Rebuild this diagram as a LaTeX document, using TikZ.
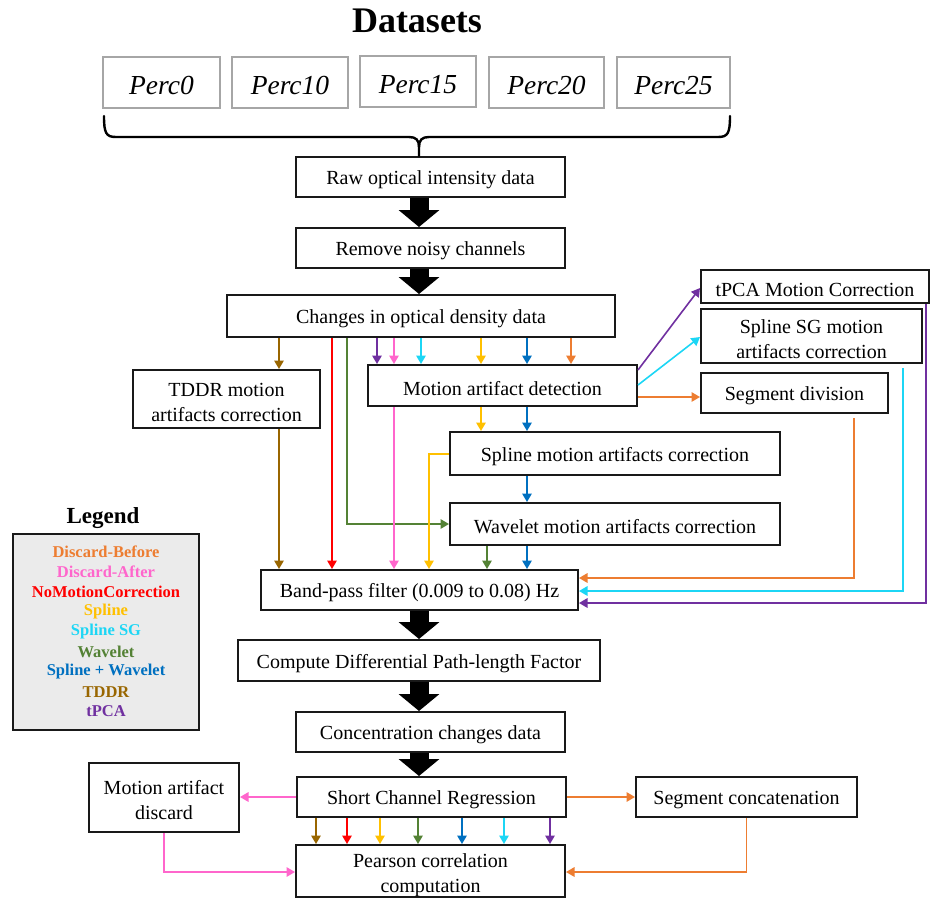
\documentclass[tikz,border=0pt]{standalone}
\usepackage{fontspec}
\setmainfont{Liberation Serif}
\usetikzlibrary{arrows.meta}
\definecolor{cOr}{HTML}{ED7D31}
\definecolor{cPk}{HTML}{FF66CC}
\definecolor{cRd}{HTML}{FF0000}
\definecolor{cYl}{HTML}{FFC000}
\definecolor{cCy}{HTML}{1CD6F5}
\definecolor{cGn}{HTML}{548235}
\definecolor{cBl}{HTML}{0070C0}
\definecolor{cBr}{HTML}{996600}
\definecolor{cPu}{HTML}{7030A0}
\definecolor{cGray}{HTML}{A6A6A6}
\definecolor{cLeg}{HTML}{EBEBEB}
\newcommand{\tallstrut}{\rule{0pt}{20pt}}
\tikzset{
  box/.style={draw=black!90, line width=2pt, inner sep=0pt, align=center,
    font=\fontsize{20}{25}\selectfont, execute at begin node={\tallstrut}},
  percbox/.style={draw=cGray, line width=2pt, inner sep=0pt,
    font=\fontsize{27.5}{30}\selectfont\itshape, execute at begin node={\rule{0pt}{25pt}}},
  ca/.style={line width=1.6pt, -{Triangle[length=8.5pt,width=9.5pt]}},
  bigarrow/.style={draw=black, line width=19pt, -{Triangle[length=17pt,width=40pt]}},
  legitem/.style={font=\fontsize{16.5}{18}\selectfont\bfseries, inner sep=0pt}
}
\begin{document}
\begin{tikzpicture}[x=1pt,y=-1pt]
\useasboundingbox (0,0) rectangle (930,898);

% title and datasets
\node[font=\fontsize{36}{40}\selectfont\bfseries] (title) at (417,21) {Datasets};
\node[percbox, minimum width=117pt, minimum height=51pt] (p0)  at (161.5,82.5) {Perc0};
\node[percbox, minimum width=116pt, minimum height=51pt] (p10) at (290,82.5) {Perc10};
\node[percbox, minimum width=116pt, minimum height=51pt] (p15) at (418,81) {Perc15};
\node[percbox, minimum width=115pt, minimum height=51pt] (p20) at (546.5,82.5) {Perc20};
\node[percbox, minimum width=113pt, minimum height=51pt] (p25) at (673.5,82.5) {Perc25};

% main boxes
\node[box, minimum width=269pt, minimum height=40pt] (raw) at (430.5,177) {Raw optical intensity data};
\node[box, minimum width=269pt, minimum height=40pt] (remove) at (430.5,248) {Remove noisy channels};
\node[box, minimum width=388pt, minimum height=42pt] (cod) at (421,316) {Changes in optical density data};
\node[box, minimum width=187pt, minimum height=58pt] (tddr) at (226.5,399) {\tallstrut TDDR motion\\artifacts correction};
\node[box, minimum width=269pt, minimum height=41pt] (mad) at (502.5,385.5) {Motion artifact detection};
\node[box, minimum width=228pt, minimum height=33pt] (tpca) at (815,286.5) {tPCA Motion Correction};
\node[box, minimum width=221pt, minimum height=54pt] (ssg) at (811.5,336) {\tallstrut Spline SG motion\\artifacts correction};
\node[box, minimum width=187pt, minimum height=40pt] (segdiv) at (794.5,393) {Segment division};
\node[box, minimum width=330pt, minimum height=43pt] (spline) at (615,453.5) {Spline motion artifacts correction};
\node[box, minimum width=330pt, minimum height=42pt] (wavelet) at (615,524) {Wavelet motion artifacts correction};
\node[box, minimum width=317pt, minimum height=40pt] (bpf) at (419.5,590) {Band-pass filter (0.009 to 0.08) Hz};
\node[box, minimum width=362pt, minimum height=41pt] (dpf) at (419,660.5) {Compute Differential Path-length Factor};
\node[box, minimum width=269pt, minimum height=40pt] (conc) at (430.5,732) {Concentration changes data};
\node[box, minimum width=269pt, minimum height=40pt] (scr) at (431.5,797) {Short Channel Regression};
\node[box, minimum width=150pt, minimum height=69pt] (mdisc) at (164,797.5) {\tallstrut Motion artifact\\discard};
\node[box, minimum width=221pt, minimum height=40pt] (segcat) at (746.5,797) {Segment concatenation};
\node[box, minimum width=269pt, minimum height=52pt] (pearson) at (430.5,871) {\rule{0pt}{22pt}Pearson correlation\\computation};

% legend
\node[font=\fontsize{23}{26}\selectfont\bfseries] (legtitle) at (103,518) {Legend};
\node[draw=black!90, line width=2pt, fill=cLeg, minimum width=186pt, minimum height=196pt, inner sep=0pt] (legend) at (106,632) {};
\node[legitem, text=cOr] (l1) at (106,552) {Discard-Before};
\node[legitem, text=cPk] (l2) at (106,572) {Discard-After};
\node[legitem, text=cRd] (l3) at (106,592) {NoMotionCorrection};
\node[legitem, text=cYl] (l4) at (106,612) {Spline};
\node[legitem, text=cCy] (l5) at (106,632) {Spline SG};
\node[legitem, text=cGn] (l6) at (106,652) {Wavelet};
\node[legitem, text=cBl] (l7) at (106,672) {Spline + Wavelet};
\node[legitem, text=cBr] (l8) at (106,692) {TDDR};
\node[legitem, text=cPu] (l9) at (106,711) {tPCA};

% brace
\draw[line width=2.4pt, line cap=round]
  (104,116) .. controls (104,133) and (106,137) .. (116,137) -- (409,137)
  .. controls (416,137) and (419,140) .. (419,147) -- (419,156);
\draw[line width=2.4pt, line cap=round]
  (730,116) .. controls (730,133) and (728,137) .. (718,137) -- (429,137)
  .. controls (422,137) and (419,140) .. (419,147);

% column coordinates
\coordinate (bx) at (419,0);
\coordinate (xBr) at (279,0);
\coordinate (xRd) at (332,0);
\coordinate (xGn) at (347,0);
\coordinate (xPu) at (377,0);
\coordinate (xPk) at (394,0);
\coordinate (xCy) at (421,0);
\coordinate (xYl) at (481,0);
\coordinate (xBl) at (527,0);
\coordinate (xOr) at (571,0);
\coordinate (xYl2) at (429,0);
\coordinate (xGn2) at (487,0);
\coordinate (rOr) at (854,0);
\coordinate (rCy) at (903,0);
\coordinate (rPu) at (926,0);
\coordinate (b1) at (316,0);
\coordinate (b2) at (347,0);
\coordinate (b3) at (380,0);
\coordinate (b4) at (418,0);
\coordinate (b5) at (462,0);
\coordinate (b6) at (504,0);
\coordinate (b7) at (550,0);

% big black arrows
\draw[bigarrow] (raw.south -| bx) -- (remove.north -| bx);
\draw[bigarrow] (remove.south -| bx) -- (cod.north -| bx);
\draw[bigarrow] (bpf.south -| bx) -- (dpf.north -| bx);
\draw[bigarrow] (dpf.south -| bx) -- (conc.north -| bx);
\draw[bigarrow] (conc.south -| bx) -- (scr.north -| bx);

% from changes in OD
\draw[ca, cBr] (cod.south -| xBr) -- (tddr.north -| xBr);
\draw[ca, cBr] (tddr.south -| xBr) -- (bpf.north -| xBr);
\draw[ca, cRd] (cod.south -| xRd) -- (bpf.north -| xRd);
\draw[ca, cGn] (cod.south -| xGn) |- (wavelet.west);
\draw[ca, cPu] (cod.south -| xPu) -- (mad.north -| xPu);
\draw[ca, cPk] (cod.south -| xPk) -- (mad.north -| xPk);
\draw[ca, cCy] (cod.south -| xCy) -- (mad.north -| xCy);
\draw[ca, cYl] (cod.south -| xYl) -- (mad.north -| xYl);
\draw[ca, cBl] (cod.south -| xBl) -- (mad.north -| xBl);
\draw[ca, cOr] (cod.south -| xOr) -- (mad.north -| xOr);

% from motion artifact detection
\draw[ca, cPk] (mad.south -| xPk) -- (bpf.north -| xPk);
\draw[ca, cYl] (mad.south -| xYl) -- (spline.north -| xYl);
\draw[ca, cBl] (mad.south -| xBl) -- (spline.north -| xBl);
\draw[ca, cPu] ([yshift=15.5pt]mad.east) -- ([yshift=-1.5pt]tpca.west);
\draw[ca, cCy] ([yshift=0.5pt]mad.east) -- ([yshift=-1pt]ssg.west);
\draw[ca, cOr] ([yshift=-11.5pt]mad.east) -- ([yshift=-4pt]segdiv.west);

% spline / wavelet
\draw[ca, cYl] ([yshift=-0.5pt]spline.west) -| (bpf.north -| xYl2);
\draw[ca, cBl] (spline.south -| xBl) -- (wavelet.north -| xBl);
\draw[ca, cGn] (wavelet.south -| xGn2) -- (bpf.north -| xGn2);
\draw[ca, cBl] (wavelet.south -| xBl) -- (bpf.north -| xBl);

% right-side feedback
\draw[ca, cOr] ([yshift=-4pt]segdiv.south -| rOr) |- ([yshift=12pt]bpf.east);
\draw[ca, cCy] ([yshift=-4pt]ssg.south -| rCy) |- ([yshift=-1pt]bpf.east);
\draw[ca, cPu] (tpca.south -| rPu) |- ([yshift=-13pt]bpf.east);

% bottom
\draw[ca, cPk] (scr.west) -- (mdisc.east |- scr.west);
\draw[ca, cOr] (scr.east) -- (segcat.west);
\draw[ca, cPk] (mdisc.south) |- ([yshift=-1pt]pearson.west);
\draw[ca, cOr] (segcat.south) |- ([yshift=-1pt]pearson.east);
\draw[ca, cBr] (scr.south -| b1) -- (pearson.north -| b1);
\draw[ca, cRd] (scr.south -| b2) -- (pearson.north -| b2);
\draw[ca, cYl] (scr.south -| b3) -- (pearson.north -| b3);
\draw[ca, cGn] (scr.south -| b4) -- (pearson.north -| b4);
\draw[ca, cBl] (scr.south -| b5) -- (pearson.north -| b5);
\draw[ca, cCy] (scr.south -| b6) -- (pearson.north -| b6);
\draw[ca, cPu] (scr.south -| b7) -- (pearson.north -| b7);
\end{tikzpicture}
\end{document}
